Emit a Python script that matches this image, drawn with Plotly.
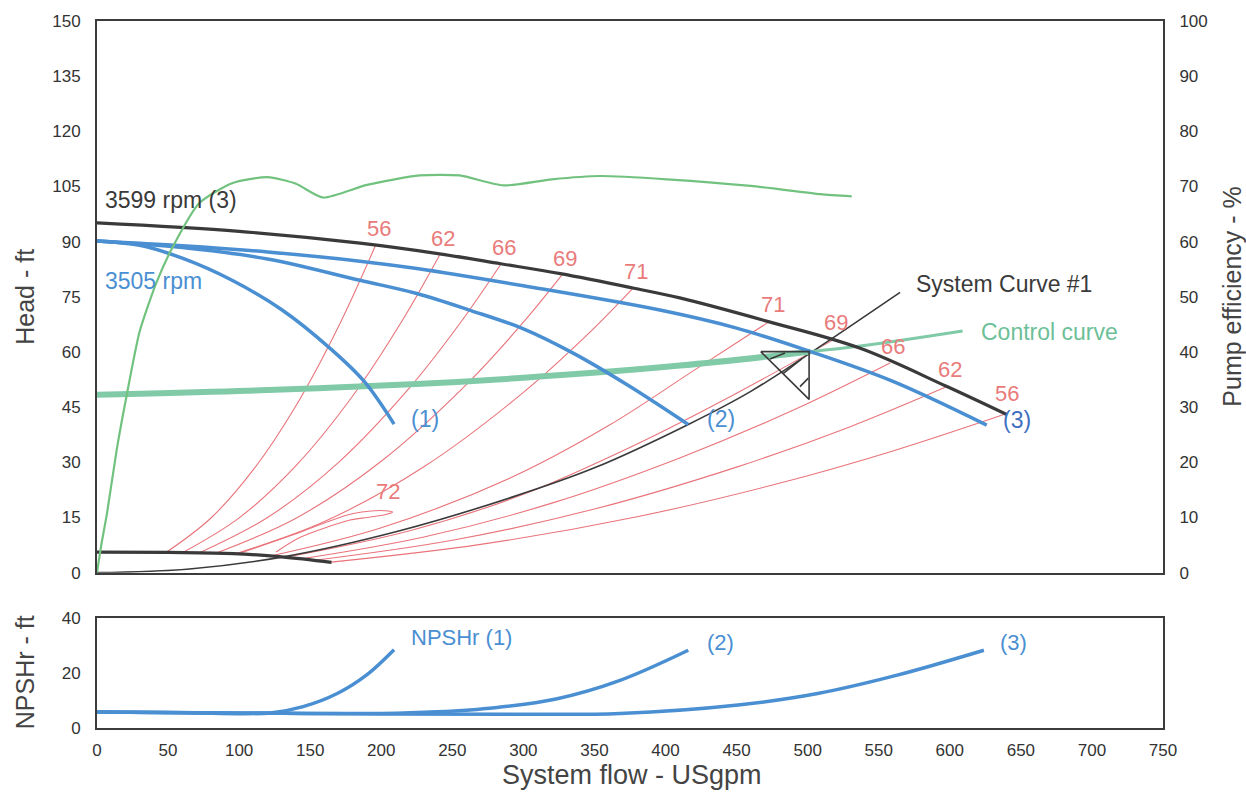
import plotly.graph_objects as go

# ---------------- data ----------------
flow_ticks = list(range(0, 751, 50))
head_ticks = list(range(0, 151, 15))
eff_ticks = list(range(0, 101, 10))
npsh_ticks = [0, 20, 40]

# 3599 rpm (3) full speed curve
q_3599 = [0, 100, 185, 241, 284, 326, 377, 410, 473, 537, 598, 640]
h_3599 = [95.1, 92.8, 89.6, 86.7, 84.0, 81.3, 77.4, 74.7, 68.2, 61.0, 50.6, 43.0]

# minimum speed curve (thick black at bottom)
q_min = [0, 50, 96, 130, 165]
h_min = [5.6, 5.5, 5.2, 4.3, 2.8]

# 3505 rpm curves (1), (2), (3)
q_c1 = [0, 30, 60, 95, 130, 164, 188, 209]
h_c1 = [90.2, 89.0, 85.5, 79.5, 71.5, 61.0, 52.0, 40.4]
q_c2 = [0, 60, 120, 185, 225, 262, 300, 335, 373, 416]
h_c2 = [90.2, 88.4, 85.3, 79.5, 75.9, 71.4, 66.3, 59.7, 51.1, 40.3]
q_c3 = [0, 60, 120, 185, 225, 300, 396, 450, 502, 560, 626]
h_c3 = [90.2, 88.9, 87.2, 84.7, 82.7, 78.0, 71.4, 66.5, 60.1, 52.0, 40.1]

# pump efficiency curve (%)
q_eff = [0, 3, 7, 14, 21, 30, 42, 54, 72, 95, 120, 140, 159, 190, 227, 255, 286, 320, 354, 401, 460, 509, 531]
eff = [0, 5, 10.7, 22.5, 32.3, 43.7, 52.7, 59.4, 67.0, 70.6, 71.7, 70.5, 68.0, 70.3, 72.0, 72.0, 70.2, 71.3, 71.9, 71.3, 70.1, 68.6, 68.2]

# control curve (thick part and thin extension)
q_ctrl = [0, 100, 225, 300, 410, 502]
h_ctrl = [48.4, 49.4, 51.3, 53.0, 56.3, 60.1]
q_ctrl_ext = [502, 537, 609]
h_ctrl_ext = [60.1, 61.6, 65.7]

# system curve #1
q_sys = [0, 65, 131, 213, 291, 350, 416, 460, 501, 565]
h_sys = [0, 1.0, 4.3, 11.4, 20.4, 28.5, 40.3, 49.3, 59.5, 76.2]

# operating point marker
q_tri = [467, 501, 501, 467]
h_tri = [60.1, 60.1, 47.1, 60.1]
q_hatch = [473.5, 484.1, None, 482.9, 495.8, None, 494.6, 500.5]
h_hatch = [58.1, 59.7, None, 54.2, 58.1, None, 50.6, 52.9]

# iso-efficiency lines, left group
q_l56 = [49, 80, 110, 140, 170, 196]
h_l56 = [5.6, 14.8, 28.0, 45.4, 67.0, 89.0]
q_l62 = [60, 100, 140, 180, 215, 241]
h_l62 = [5.4, 14.9, 29.1, 48.1, 68.7, 86.3]
q_l66 = [71, 120, 170, 220, 255, 284]
h_l66 = [5.2, 15.0, 30.0, 50.3, 67.6, 83.8]
q_l69 = [83, 140, 200, 260, 300, 327]
h_l69 = [5.2, 14.8, 30.3, 51.2, 68.1, 80.9]
q_l71 = [97, 160, 230, 300, 345, 377]
h_l71 = [5.1, 13.9, 28.8, 49.0, 64.7, 77.3]
# right group
q_r71 = [123, 200, 291, 360, 420, 473.5]
h_r71 = [4.6, 12.2, 25.8, 40.0, 55.0, 68.4]
q_r69 = [133, 220, 300, 380, 450, 518]
h_r69 = [4.2, 11.4, 21.3, 35.0, 48.8, 63.3]
q_r66 = [143, 230, 320, 410, 490, 558]
h_r66 = [3.7, 9.7, 18.9, 31.2, 44.2, 57.0]
q_r62 = [152, 250, 350, 450, 530, 598]
h_r62 = [3.3, 8.8, 17.3, 28.7, 39.7, 50.6]
q_r56 = [163, 270, 380, 480, 560, 638]
h_r56 = [2.8, 7.7, 15.2, 24.3, 33.1, 43.0]
# 72 loop
q_l72 = [100, 140, 178, 200, 208, 203, 190, 178, 143, 126]
h_l72 = [5.2, 10.6, 15.9, 16.9, 16.5, 15.8, 15.0, 14.3, 9.6, 5.6]

iso_labels = ["56", "62", "66", "69", "71", "71", "69", "66", "62", "56"]

# NPSHr curves
q_n1 = [0, 60, 122, 145, 169, 190, 209]
n1 = [5.8, 5.6, 5.5, 7.8, 12.6, 19.5, 28.6]
q_n2 = [0, 100, 200, 239, 280, 323, 367, 416]
n2 = [5.8, 5.5, 5.3, 5.9, 7.4, 10.6, 17.2, 28.4]
q_n3 = [0, 150, 300, 368, 451, 507, 563, 624]
n3 = [5.8, 5.3, 5.0, 5.3, 8.4, 12.6, 19.3, 28.4]

# ---------------- styling ----------------
FONT = "Liberation Sans, Arial, sans-serif"
RED = "#e9747b"
RED_TXT = "#e97b7b"
BLUE = "#4a8fd2"
BLACK = "#3a3a3a"
GREEN = "#72c27f"
TEAL = "#80caa8"
TEAL_TXT = "#6dbf98"
AX = "#3c3c3c"

fig = go.Figure()


def add(x, y, color, width, xa="x2", ya="y", shape="spline", smoothing=1.0):
    fig.add_trace(go.Scatter(
        x=x, y=y, xaxis=xa, yaxis=ya, mode="lines", connectgaps=False,
        line=dict(color=color, width=width, shape=shape, smoothing=smoothing),
        hoverinfo="skip", showlegend=False))


iso_lines = [(q_l56, h_l56), (q_l62, h_l62), (q_l66, h_l66), (q_l69, h_l69), (q_l71, h_l71),
             (q_r71, h_r71), (q_r69, h_r69), (q_r66, h_r66), (q_r62, h_r62), (q_r56, h_r56)]
for qx, hy in iso_lines:
    add(qx, hy, RED, 1.1)
add(q_l72, h_l72, RED, 1.1, smoothing=0.8)

add(q_eff, eff, GREEN, 2.2, ya="y2", smoothing=0.6)
add(q_sys, h_sys, BLACK, 1.6)
add(q_ctrl, h_ctrl, TEAL, 6)
add(q_ctrl_ext, h_ctrl_ext, TEAL, 3)
add(q_c1, h_c1, BLUE, 3.5)
add(q_c2, h_c2, BLUE, 3.5)
add(q_c3, h_c3, BLUE, 3.5)
add(q_3599, h_3599, BLACK, 3.2)
add(q_min, h_min, BLACK, 3.2)
add(q_tri, h_tri, BLACK, 1.6, shape="linear")
add(q_hatch, h_hatch, BLACK, 1.6, shape="linear")

add(q_n1, n1, BLUE, 3.5, xa="x", ya="y3")
add(q_n2, n2, BLUE, 3.5, xa="x", ya="y3")
add(q_n3, n3, BLUE, 3.5, xa="x", ya="y3")

ann = []


def text(x, y, s, color, size=23, xref="x2", yref="y", xanchor="left", xshift=0, yshift=0):
    ann.append(dict(x=x, y=y, xref=xref, yref=yref, text=s, showarrow=False,
                    xanchor=xanchor, yanchor="middle", xshift=xshift, yshift=yshift,
                    font=dict(family=FONT, size=size, color=color)))


label_yshift = [17, 17, 17, 17, 17, 17, 17, 17, 17, 21]
for (qx, hy), lab, ys in zip(iso_lines, iso_labels, label_yshift):
    text(qx[-1], hy[-1], lab, RED_TXT, size=22, xanchor="center", xshift=3, yshift=ys)
text(q_l72[4], h_l72[4], "72", RED_TXT, size=22, xanchor="center", xshift=-5, yshift=20)

text(0, h_3599[0], "3599 rpm (3)", BLACK, xshift=6, yshift=23)
text(0, h_c1[0], "3505 rpm", BLUE, xshift=6, yshift=-40)
text(q_c1[-1], h_c1[-1], "(1)", BLUE, xshift=15, yshift=5)
text(q_c2[-1], h_c2[-1], "(2)", BLUE, xshift=17, yshift=5)
text(q_c3[-1], h_c3[-1], "(3)", "#3f6fbf", xshift=14, yshift=5)
text(q_sys[-1], h_sys[-1], "System Curve #1", BLACK, xshift=14, yshift=8)
text(q_ctrl_ext[-1], h_ctrl_ext[-1], "Control curve", TEAL_TXT, xshift=16, yshift=-1)

text(q_n1[-1], n1[-1], "NPSHr (1)", BLUE, xref="x", yref="y3", size=22, xshift=15, yshift=12)
text(q_n2[-1], n2[-1], "(2)", BLUE, xref="x", yref="y3", size=22, xshift=17, yshift=8)
text(q_n3[-1], n3[-1], "(3)", BLUE, xref="x", yref="y3", size=22, xshift=14, yshift=8)

# axis titles
TITLE = dict(family=FONT, size=25, color="#444")
ann.append(dict(x=-0.0675, y=0.61, xref="paper", yref="paper", text="Head - ft", textangle=-90,
                showarrow=False, font=TITLE, xanchor="center", yanchor="middle"))
ann.append(dict(x=1.0647, y=0.61, xref="paper", yref="paper", text="Pump efficiency - %", textangle=-90,
                showarrow=False, font=TITLE, xanchor="center", yanchor="middle"))
ann.append(dict(x=-0.0675, y=0.079, xref="paper", yref="paper", text="NPSHr - ft", textangle=-90,
                showarrow=False, font=TITLE, xanchor="center", yanchor="middle"))
ann.append(dict(x=0.502, y=-0.066, xref="paper", yref="paper", text="System flow - USgpm",
                showarrow=False, font=dict(family=FONT, size=27, color="#444"),
                xanchor="center", yanchor="middle"))

TICK = dict(family=FONT, size=17, color="#333")
common = dict(showgrid=False, zeroline=False, showline=True, linecolor=AX, linewidth=2,
              ticks="outside", tickcolor="rgba(0,0,0,0)", tickfont=TICK)

fig.update_layout(
    width=1246, height=792,
    margin=dict(l=97, r=83, t=18, b=64),
    paper_bgcolor="white", plot_bgcolor="white",
    showlegend=False,
    annotations=ann,
    xaxis=dict(domain=[0, 1], anchor="y3", range=[0, 750], tickvals=flow_ticks, mirror=True,
               ticklen=6, **common),
    xaxis2=dict(domain=[0, 1], anchor="y", range=[0, 750], matches="x", mirror=True,
                showticklabels=False, ticklen=0, **{k: v for k, v in common.items() if k != "ticks"}),
    yaxis=dict(domain=[156 / 710, 1], anchor="x2", range=[0, 150], tickvals=head_ticks, mirror=True,
               ticklen=11, **common),
    yaxis2=dict(overlaying="y", anchor="x2", side="right", range=[0, 100], tickvals=eff_ticks,
                showgrid=False, zeroline=False, showline=False, ticks="outside",
                tickcolor="rgba(0,0,0,0)", ticklen=12, tickfont=TICK),
    yaxis3=dict(domain=[0, 110 / 710], anchor="x", range=[0, 40], tickvals=npsh_ticks, mirror=True,
                ticklen=11, **common),
)

fig.write_html(
    "out.html",
    config={"displayModeBar": False},
    post_script="document.body.style.margin='0';document.body.style.padding='0';"
                "document.documentElement.style.overflow='hidden';",
)
